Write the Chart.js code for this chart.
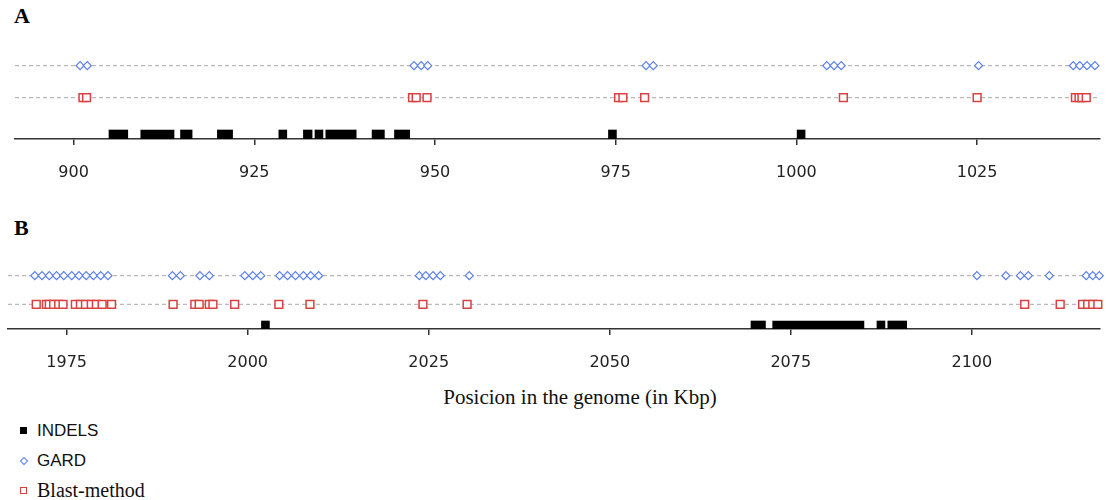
<!DOCTYPE html>
<html lang="en">
<head>
<meta charset="UTF-8">
<title>Posicion in the genome</title>
<script src="https://cdn.jsdelivr.net/npm/chart.js"></script>
<style>
    body {
        margin: 0;
        width: 1106px;
        height: 500px;
        background: #fff;
        position: relative;
        overflow: hidden;
    }
    .panel-label {
        position: absolute;
        left: 14px;
        font-family: 'Liberation Serif', serif;
        font-weight: bold;
        font-size: 22px;
        line-height: 22px;
    }
    .chart-box { position: absolute; left: 0; }
    .axis-title {
        position: absolute;
        top: 385px;
        left: 0;
        width: 1160px;
        text-align: center;
        font-family: 'Liberation Serif', serif;
        font-size: 21px;
        line-height: 24px;
        color: #111;
    }
    .legend-row {
        position: absolute;
        left: 37px;
        line-height: 20px;
        color: #111;
    }
    .sans { font-family: 'Liberation Sans', sans-serif; font-size: 17px; }
    .serif { font-family: 'Liberation Serif', serif; font-size: 20px; }
    .mk { position: absolute; box-sizing: border-box; }
    .mk-indel { left: 20px; top: 427px; width: 7px; height: 7px; background: #000; }
    .mk-gard { left: 21px; top: 458px; width: 6px; height: 6px; border: 1px solid #5a7ff0; transform: rotate(45deg); }
    .mk-blast { left: 20px; top: 487px; width: 7px; height: 7px; border: 1.5px solid #d94040; }
</style>
</head>
<body>
    <div class="panel-label" style="top:5px">A</div>
    <div class="chart-box" style="top:30px"><canvas id="chartA" width="1106" height="154"></canvas></div>

    <div class="panel-label" style="top:217px">B</div>
    <div class="chart-box" style="top:250px"><canvas id="chartB" width="1106" height="124"></canvas></div>

    <div class="axis-title">Posicion in the genome (in Kbp)</div>

    <div class="mk mk-indel"></div>
    <div class="legend-row sans" style="top:421px">INDELS</div>
    <div class="mk mk-gard"></div>
    <div class="legend-row sans" style="top:451px">GARD</div>
    <div class="mk mk-blast"></div>
    <div class="legend-row serif" style="top:480px">Blast-method</div>

<script>
    // Panel A: 890-1040 Kbp
    const ticksA = [900, 925, 950, 975, 1000, 1025];
    const indelsA = [
        [904.9, 907.5], [909.3, 913.9], [914.8, 916.4], [919.9, 922.0],
        [928.4, 929.5], [931.8, 933.0], [933.4, 934.5], [934.9, 939.1],
        [941.3, 943.0], [944.4, 946.5], [974.0, 975.1], [1000.1, 1001.2]
    ];
    const gardA = [900.9, 901.9, 947.1, 948.1, 949.0, 979.2, 980.2,
                   1004.2, 1005.2, 1006.2, 1025.2, 1038.3, 1039.2, 1040.2, 1041.3];
    const blastA = [901.3, 901.8, 946.9, 947.4, 948.9, 975.4, 976.0, 979.0,
                    1006.5, 1025.0, 1038.6, 1039.1, 1039.5, 1040.1];

    // Panel B: 1967-2118 Kbp
    const ticksB = [1975, 2000, 2025, 2050, 2075, 2100];
    const indelsB = [
        [2001.9, 2003.0], [2069.5, 2071.5], [2072.5, 2085.1],
        [2086.9, 2088.0], [2088.4, 2091.0]
    ];
    const gardB = [1970.6, 1971.6, 1972.6, 1973.6, 1974.6, 1975.7, 1976.7, 1977.7, 1978.7, 1979.7, 1980.7,
                   1989.6, 1990.7, 1993.4, 1994.7, 1999.6, 2000.7, 2001.8,
                   2004.4, 2005.5, 2006.6, 2007.7, 2008.7, 2009.8,
                   2023.7, 2024.6, 2025.6, 2026.6, 2030.6,
                   2100.7, 2104.7, 2106.7, 2107.8, 2110.7, 2115.8, 2116.7, 2117.6];
    const blastB = [1970.8, 1972.2, 1972.6, 1973.2, 1973.9, 1974.5,
                    1976.2, 1976.9, 1977.6, 1978.4, 1979.1, 1979.9, 1981.2,
                    1989.7, 1992.7, 1993.3, 1994.7, 1995.2, 1998.2, 2004.3, 2008.6,
                    2024.2, 2030.3, 2107.3, 2112.2, 2115.3, 2116.0, 2116.7, 2117.4];

    const rangeA = [891.9, 1042];
    const rangeB = [1966.9, 2117.7];

    const BLUE = '#5a7ff0';
    const RED = '#d94040';
    const DASH = '#a8a8a8';
    const AXIS_H = 45; // space under the axis line for ticks + labels

    // rows are in pixels above the axis line
    function makePanel(id, p) {
        const pts = (xs, y) => xs.map(x => ({ x: x, y: y }));
        new Chart(document.getElementById(id), {
            type: 'scatter',
            data: {
                datasets: [
                    {
                        label: 'GARD',
                        data: pts(p.gard, p.rows.gard),
                        pointStyle: 'rectRot',
                        pointRadius: 4,
                        borderColor: BLUE,
                        backgroundColor: '#fff',
                        borderWidth: 1.2,
                        clip: false,
                        order: 0
                    },
                    {
                        label: 'Blast-method',
                        data: pts(p.blast, p.rows.blast),
                        pointStyle: 'rect',
                        pointRadius: 5.5,
                        borderColor: RED,
                        backgroundColor: '#fff',
                        borderWidth: 1.5,
                        clip: false,
                        order: 1
                    },
                    {
                        type: 'bar',
                        label: 'INDELS',
                        indexAxis: 'y',
                        data: p.indels.map(r => ({ y: p.rows.bar, x: r })),
                        backgroundColor: '#000',
                        barThickness: p.rows.barH,
                        order: 2
                    },
                    {
                        type: 'line',
                        data: pts(p.range, p.rows.gard),
                        borderColor: DASH,
                        borderWidth: 1,
                        borderDash: [4, 3],
                        pointRadius: 0,
                        order: 3
                    },
                    {
                        type: 'line',
                        data: pts(p.range, p.rows.blast),
                        borderColor: DASH,
                        borderWidth: 1,
                        borderDash: [4, 3],
                        pointRadius: 0,
                        order: 3
                    }
                ]
            },
            options: {
                responsive: false,
                animation: false,
                events: [],
                layout: { autoPadding: false, padding: { left: p.left, right: 6, top: 0, bottom: 0 } },
                plugins: { legend: { display: false }, tooltip: { enabled: false } },
                scales: {
                    x: {
                        type: 'linear',
                        min: p.range[0],
                        max: p.range[1],
                        beginAtZero: false,
                        afterBuildTicks: axis => { axis.ticks = p.ticks.map(v => ({ value: v })); },
                        afterFit: axis => { axis.height = AXIS_H; },
                        border: { display: true, color: '#333', width: 1.5 },
                        grid: { drawOnChartArea: false, drawTicks: true, tickLength: 6, color: '#333', lineWidth: 1.5 },
                        ticks: {
                            autoSkip: false,
                            maxRotation: 0,
                            padding: 18,
                            color: '#222',
                            font: { family: 'DejaVu Sans', size: 16 },
                            callback: v => String(v)
                        }
                    },
                    y: {
                        type: 'linear',
                        display: false,
                        offset: false,
                        beginAtZero: false,
                        min: 0,
                        max: p.rows.top
                    }
                }
            }
        });
    }

    makePanel('chartA', {
        ticks: ticksA, indels: indelsA, gard: gardA, blast: blastA, range: rangeA, left: 15,
        rows: { top: 109, gard: 73.3, blast: 41.3, bar: 4.5, barH: 9 }
    });
    makePanel('chartB', {
        ticks: ticksB, indels: indelsB, gard: gardB, blast: blastB, range: rangeB, left: 8,
        rows: { top: 79, gard: 53.3, blast: 24.7, bar: 4, barH: 8 }
    });
</script>
</body>
</html>
